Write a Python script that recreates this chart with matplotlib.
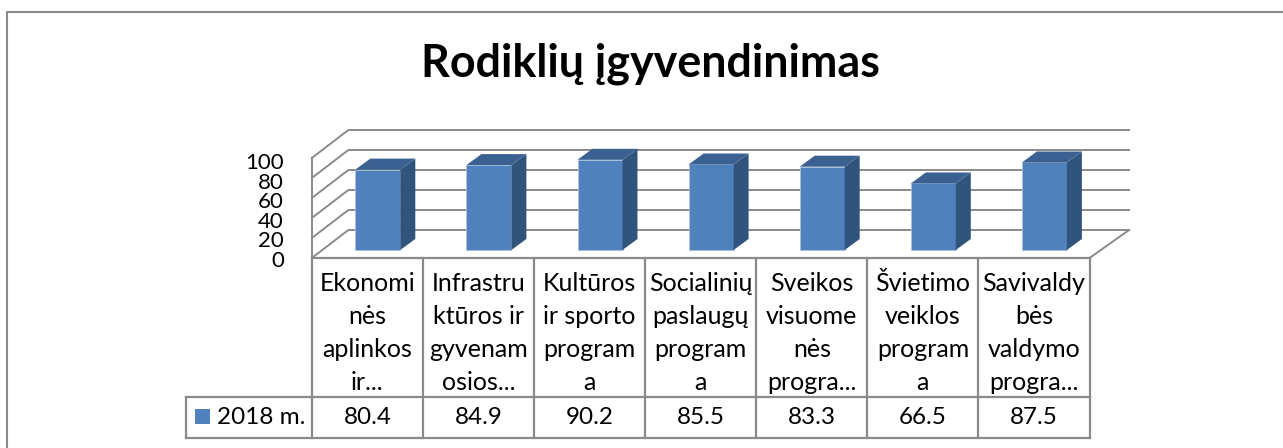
import matplotlib
matplotlib.use('Agg')
import matplotlib.pyplot as plt
from matplotlib.patches import Polygon

categories = ["Ekonomi\nnės\naplinkos\nir...", "Infrastru\nktūros ir\ngyvenam\nosios...",
              "Kultūros\nir sporto\nprogram\na", "Socialinių\npaslaugų\nprogram\na",
              "Sveikos\nvisuome\nnės\nprogra...", "Švietimo\nveiklos\nprogram\na",
              "Savivaldy\nbės\nvaldymo\nprogra..."]
values = [80.4, 84.9, 90.2, 85.5, 83.3, 66.5, 87.5]
series_name = "2018 m."
y_ticks = [0, 20, 40, 60, 80, 100]

plt.rcParams['font.family'] = ['Lato', 'DejaVu Sans']

W, H = 1283, 448
fig = plt.figure(figsize=(W / 100, H / 100), dpi=100)
# one axes over the whole figure: x in categories, y in chart values (1 value = 1 px)
ax = fig.add_axes([0, 0, 1, 1])
CELL = 111.1
X0, Y0 = 367.4, 258
ax.set_xlim(-X0 / CELL, (W - X0) / CELL)
ax.set_ylim(Y0 - H, Y0)
ax.axis('off')

def xs(px):
    return (px - X0) / CELL

grid = '#8a8a8a'
border = '#8a8a8a'
front = '#4f81bd'
side = '#31547c'
top = '#3a6191'

# outer frame is open on the right and at the bottom
ax.plot([xs(7), xs(7), xs(W)], [Y0 - H, Y0 - 12, Y0 - 12], color=border, lw=1.5)

ax.text(xs(650), Y0 - 64, "Rodiklių įgyvendinimas", fontsize=32.3, fontweight='bold', ha='center', va='center')

# walls and floor
dx_l, dx_r, dy = 36.5 / CELL, 39.5 / CELL, 28
x_left, x_right = -0.5, 6.5
for v in y_ticks:
    ax.plot([x_left, x_left + dx_l, x_right + dx_r], [v, v + dy, v + dy], color=grid, lw=1.4, zorder=1)
    ax.text(xs(284), v * 0.98 - 3, str(v), fontsize=16, ha='right', va='center')
ax.plot([x_left, x_left], [0, 100], color=grid, lw=1.4, zorder=1)
ax.plot([x_right, x_right + dx_r], [0, dy], color=grid, lw=1.4, zorder=1)
ax.plot([x_left, x_right], [0, 0], color=grid, lw=1.6, zorder=1)

# bars, with side and top faces
shift = 10.4 / CELL
bar_w = 45 / CELL
bdx, bdy = 15 / CELL, 11
base = 8
x_pos = list(range(len(values)))
ax.bar([x + shift for x in x_pos], values, bar_w, bottom=base, color=front, ec='#a9c1df', lw=0.6, zorder=3)
for x, v in zip(x_pos, values):
    r = x + shift + bar_w / 2
    l = x + shift - bar_w / 2
    t = v + base
    ax.add_patch(Polygon([(r, base), (r + bdx, base + bdy), (r + bdx, t + bdy), (r, t)], fc=side, ec='none', zorder=3))
    ax.add_patch(Polygon([(l, t), (l + bdx, t + bdy), (r + bdx, t + bdy), (r, t)], fc=top, ec='none', zorder=3))

# data table
row1, row2 = Y0 - 396.7, Y0 - 438
ax.plot([xs(185.7), x_right], [row1, row1], color=border, lw=1.6, zorder=2)
ax.plot([xs(185.7), x_right], [row2, row2], color=border, lw=1.6, zorder=2)
ax.plot([xs(185.7), xs(185.7)], [row1, row2], color=border, lw=1.6, zorder=2)
for i in range(len(values) + 1):
    ax.plot([i - 0.5, i - 0.5], [0, row2], color=border, lw=1.6, zorder=2)
for i, (c, v) in enumerate(zip(categories, values)):
    ax.text(i, -75, c, fontsize=18, ha='center', va='center', linespacing=1.52)
    ax.text(i, (row1 + row2) / 2, f"{v:.1f}", fontsize=17.5, ha='center', va='center')
ax.add_patch(plt.Rectangle((xs(195), row1 - 27), 15 / CELL, 15, fc=front, ec='none'))
ax.text(xs(217), (row1 + row2) / 2, series_name, fontsize=17.5, ha='left', va='center')

fig.savefig('out.png', dpi=100)
